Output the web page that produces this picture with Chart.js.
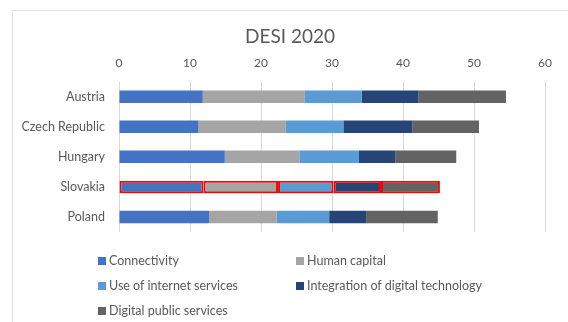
<!DOCTYPE html>
<html>
<head>
<meta charset="utf-8">
<script src="https://cdn.jsdelivr.net/npm/chart.js@4.4.1/dist/chart.umd.min.js"></script>
<style>
  body { margin: 0; background: #fff; }
  #wrap { position: relative; width: 568px; height: 322px; overflow: hidden; font-family: Lato, "Liberation Sans", sans-serif; }
  #frame { position: absolute; left: 12px; top: 10px; width: 600px; height: 400px; border-left: 1px solid #e2e2e2; border-top: 1px solid #e2e2e2; }
  #c { position: absolute; left: 0; top: 0; }
  .item { position: absolute; font-size: 12.5px; color: #595959; line-height: 14px; white-space: nowrap; }
  .item span { position: absolute; left: 0; top: 3px; width: 8px; height: 8px; }
  .item b { font-weight: normal; margin-left: 11px; }
</style>
</head>
<body>
<div id="wrap">
  <div id="frame"></div>
  <canvas id="c" width="568" height="322"></canvas>
  <div id="legend"></div>
</div>
<script>
const countries = ["Austria", "Czech Republic", "Hungary", "Slovakia", "Poland"];
const seriesNames = ["Connectivity", "Human capital", "Use of internet services", "Integration of digital technology", "Digital public services"];
const connectivity = [11.8, 11.2, 14.9, 11.9, 12.7];
const humanCapital = [14.3, 12.3, 10.5, 10.5, 9.5];
const internetUse = [8.1, 8.1, 8.4, 7.8, 7.4];
const digitalTech = [8.0, 9.7, 5.1, 6.7, 5.2];
const publicServices = [12.3, 9.4, 8.6, 8.3, 10.1];
const xTicks = [0, 10, 20, 30, 40, 50, 60];

const colors = ["#4472C4", "#A5A5A5", "#5B9BD5", "#264478", "#636363"];
const highlight = "Slovakia";
const hi = countries.indexOf(highlight);

const values = [connectivity, humanCapital, internetUse, digitalTech, publicServices];
const datasets = values.map((v, i) => ({
  label: seriesNames[i],
  data: v,
  backgroundColor: colors[i],
  borderColor: "#FF0000",
  borderWidth: (ctx) => (ctx.dataIndex === hi ? 2 : 0),
  borderSkipped: false,
  categoryPercentage: 0.8,
  barPercentage: 0.52,
}));

const gray = "#595959";

new Chart(document.getElementById("c").getContext("2d"), {
  type: "bar",
  data: { labels: countries, datasets: datasets },
  options: {
    indexAxis: "y",
    responsive: false,
    animation: false,
    layout: { padding: { left: 12, right: 0, top: 10, bottom: 90 } },
    plugins: {
      legend: { display: false },
      tooltip: { enabled: false },
      title: {
        display: true,
        text: "DESI 2020",
        color: gray,
        font: { family: "Lato", size: 19, weight: "normal" },
        padding: { top: 15, bottom: 0 },
      },
    },
    scales: {
      x: {
        position: "top",
        stacked: true,
        min: 0,
        max: 60,
        afterBuildTicks: (axis) => {
          axis.ticks = xTicks.map((v) => ({ value: v }));
        },
        afterFit: (axis) => {
          axis.height = 33.9;
        },
        grid: { color: "#d9d9d9", drawTicks: false },
        border: { display: false },
        ticks: { color: gray, padding: 11, font: { family: "Lato", size: 12 } },
      },
      y: {
        stacked: true,
        afterFit: (axis) => {
          axis.width = 107;
        },
        grid: { display: false, drawTicks: false },
        border: { display: false },
        ticks: { color: gray, padding: 14, font: { family: "Lato", size: 12.5 } },
      },
      // empty right-hand spacer so the title stays centred on the whole frame
      spacer: {
        type: "linear",
        position: "right",
        display: true,
        afterFit: (axis) => {
          axis.width = 23;
        },
        grid: { display: false, drawTicks: false },
        border: { display: false },
        ticks: { display: false },
      },
    },
  },
});

// legend in two columns like the original
const legend = document.getElementById("legend");
seriesNames.forEach((name, i) => {
  const el = document.createElement("div");
  el.className = "item";
  el.style.left = (i % 2 === 0 ? 98 : 296) + "px";
  el.style.top = 254 + Math.floor(i / 2) * 25 + "px";
  el.innerHTML = '<span style="background:' + colors[i] + '"></span><b>' + name + "</b>";
  legend.appendChild(el);
});
</script>
</body>
</html>
